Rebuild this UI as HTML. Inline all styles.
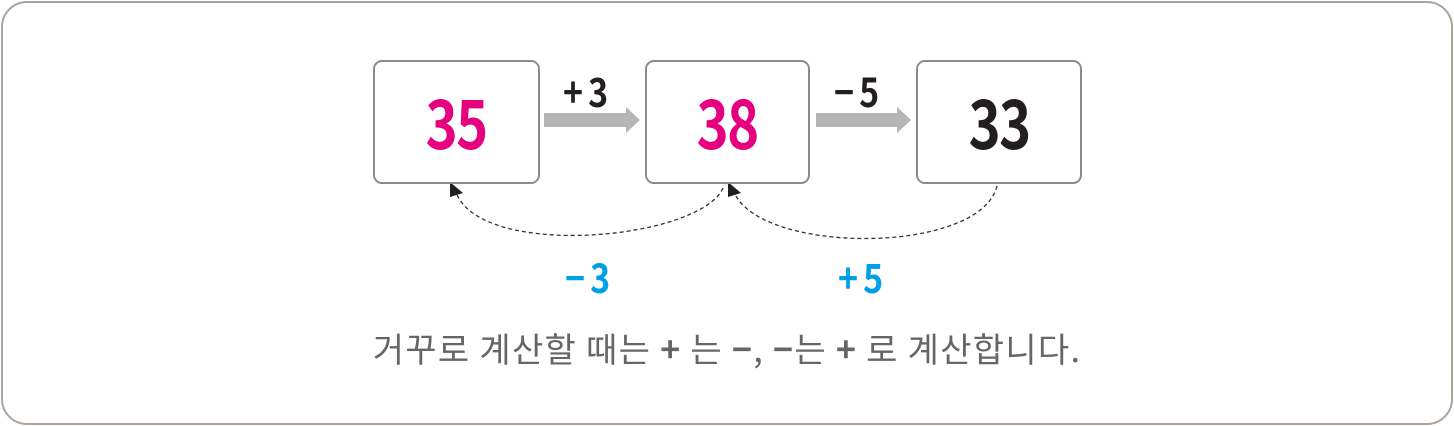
<!DOCTYPE html>
<html><head><meta charset="utf-8"><style>
html,body{margin:0;padding:0;background:#fff;}
body{width:1454px;height:426px;position:relative;overflow:hidden;font-family:"Liberation Sans","Noto Sans CJK KR",sans-serif;}
.frame{position:absolute;left:1px;top:1px;width:1448px;height:420px;border:2px solid #aaa49c;border-radius:26px;}
.box{position:absolute;top:60px;height:120px;border:2px solid #8c8c8c;border-radius:9px;background:#fff;display:flex;align-items:center;justify-content:center;}
.box span{font-family:"Noto Sans CJK KR",sans-serif;font-weight:700;font-size:68px;line-height:1;display:inline-block;transform:scaleX(0.8);letter-spacing:-2px;margin-top:-4px;}
.lbl{position:absolute;font-family:"Noto Sans CJK KR",sans-serif;font-weight:700;font-size:40px;line-height:1;transform:scaleX(0.85);transform-origin:left top;letter-spacing:6px;}
.txt{position:absolute;left:0;width:1454px;top:323px;text-align:center;font-family:"Noto Sans CJK KR",sans-serif;font-size:34px;color:#666;letter-spacing:1.3px;}
</style></head><body>
<div class="frame"></div>
<svg width="1454" height="426" style="position:absolute;left:0;top:0">
<path d="M544 113 H626 V107 L640 120 L626 133 V127 H544 Z" fill="#b5b5b5"/>
<path d="M816 113 H897 V107 L911 120 L897 133 V127 H816 Z" fill="#b5b5b5"/>
<path d="M723 188 C700 240 480 260 456 192" fill="none" stroke="#333" stroke-width="1.3" stroke-dasharray="4,3"/>
<polygon points="450,182 450,197 463,193" fill="#231f20"/>
<path d="M997 186 C980 255 760 255 734 192" fill="none" stroke="#333" stroke-width="1.3" stroke-dasharray="4,3"/>
<polygon points="728,182 728,197 741,193" fill="#231f20"/>
</svg>
<div class="box" style="left:373px;width:163px;color:#e4007f"><span>35</span></div>
<div class="box" style="left:645px;width:161px;color:#e4007f"><span>38</span></div>
<div class="box" style="left:916px;width:162px;color:#231f20"><span>33</span></div>
<div class="lbl" style="left:563px;top:70px;color:#231f20">+3</div>
<div class="lbl" style="left:834px;top:70px;color:#231f20">−5</div>
<div class="lbl" style="left:565px;top:256px;color:#00a0e9">−3</div>
<div class="lbl" style="left:838px;top:256px;color:#00a0e9">+5</div>
<div class="txt">거꾸로 계산할 때는 <b>+</b> 는 <b>−</b>, <b>−</b>는 <b>+</b> 로 계산합니다.</div>
</body></html>
